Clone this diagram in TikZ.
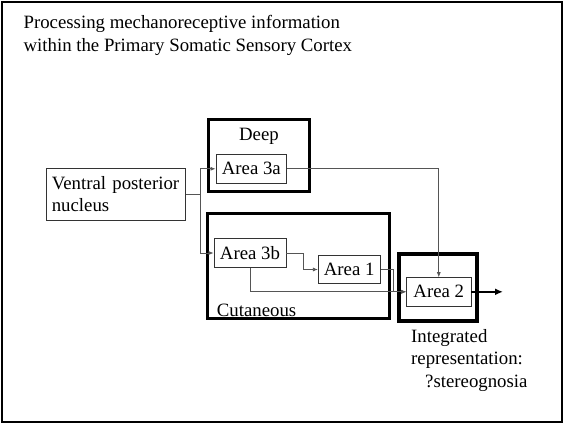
\documentclass[tikz,border=0pt]{standalone}
\usepackage{fontspec}
\setmainfont{Liberation Serif}
\usetikzlibrary{arrows.meta, positioning, calc}
\definecolor{lineGray}{HTML}{555555}
\definecolor{boxGray}{HTML}{333333}
\tikzset{
  >={Latex[length=5pt, width=4pt]},
  txt/.style={font=\fontsize{18.8}{22.5}\selectfont, inner sep=0pt},
  areabox/.style={draw=boxGray, line width=0.9pt, txt, align=center},
  zonebox/.style={draw=black, line width=3pt, inner sep=0pt},
  flow/.style={->, line width=0.7pt, draw=lineGray},
  outflow/.style={-{Latex[length=8pt, width=7pt]}, line width=2.4pt, draw=black},
}
\begin{document}
\begin{tikzpicture}[x=1pt, y=-1pt]

  % ---- Frame -------------------------------------------------------------
  \useasboundingbox (0,0) rectangle (564,424);
  \draw[line width=1.6pt] (2,2) rectangle (562,422);

  \node[txt, anchor=west, align=left] (title) at (23.4,35.5)
    {Processing mechanoreceptive information\\within the Primary Somatic Sensory Cortex};

  % ---- Nodes -------------------------------------------------------------
  \node[areabox, minimum width=139.7pt, minimum height=52pt, text width=128pt, align=left]
    (vpn) at (115.8,194) {Ventral posterior\\nucleus};

  \node[zonebox, minimum width=100.7pt, minimum height=71.7pt] (deep) at (258.7,155.2) {};
  \node[txt] (deeplbl) at (259,136) {Deep};
  \node[areabox, minimum width=70.7pt, minimum height=29pt] (a3a) at (251.3,168.8) {Area 3a};

  \node[zonebox, minimum width=181.7pt, minimum height=105pt] (cut) at (298.2,265.8) {};
  \node[txt, anchor=west] (cutlbl) at (216.7,310) {Cutaneous};
  \node[areabox, minimum width=72pt, minimum height=29pt] (a3b) at (250,253) {Area 3b};
  \node[areabox, minimum width=61.7pt, minimum height=27.6pt] (a1) at (349.2,269.5) {Area 1};

  \node[zonebox, line width=4pt, minimum width=78pt, minimum height=66.4pt] (a2box) at (438.3,287.5) {};
  \node[areabox, minimum width=64.3pt, minimum height=28.3pt] (a2) at (438.8,291.8) {Area 2};

  \node[txt, anchor=north west, align=left] (integ) at (411,329)
    {Integrated\\representation:\\\hspace{14pt}?stereognosia};

  \coordinate (out) at (503,291.8);

  % ---- Edges -------------------------------------------------------------
  % thalamus splits to deep and cutaneous areas
  \draw[flow] (vpn.east) -- ++(14.6,0) |- (a3a.west);
  \draw[flow] (vpn.east) -- ++(14.6,0) |- (a3b.west);

  \draw[flow] (a3b.east) -- ++(17.3,0) |- (a1.west);

  % everything converges on area 2
  \draw[flow] (a3a.east) -| (a2.north);
  \draw[flow] (a1.east) -- ++(13.3,0) |- (a2.west);
  \draw[flow] (a3b.south) |- (a2.west);

  \draw[outflow] (a2.east) -- (out);

\end{tikzpicture}
\end{document}
